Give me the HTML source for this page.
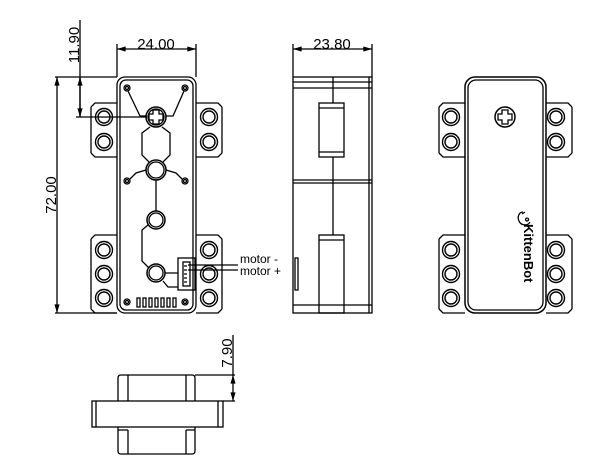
<!DOCTYPE html>
<html><head><meta charset="utf-8"><style>html,body{margin:0;padding:0;background:#fff}svg{display:block}text{font-family:"Liberation Sans",Arial,sans-serif;fill:#000}</style></head><body>
<svg width="606" height="470" viewBox="0 0 606 470" xmlns="http://www.w3.org/2000/svg" fill="none" stroke="#000" stroke-width="1.3">
<defs>
<marker id="a" viewBox="0 0 10 6" refX="10" refY="3" markerWidth="7" markerHeight="4" orient="auto-start-reverse" markerUnits="strokeWidth"><path d="M0,0L10,3L0,6z" fill="#000" stroke="none"/></marker>
<g id="hole"><circle r="8.5"/><circle r="6"/></g>
</defs>

<!-- FRONT VIEW -->
<path d="M91,107 L95,103 L117,103 M117,157 L95,157 L91,153 M91,107 L91,153"/>
<path d="M91,239 L95,235 L117,235 M117,313 L95,313 L91,309 M91,239 L91,309"/>
<path d="M222,107 L218,103 L196,103 M196,157 L218,157 L222,153 M222,107 L222,153"/>
<path d="M222,239 L218,235 L196,235 M196,313 L218,313 L222,309 M222,239 L222,309"/>
<rect x="117" y="77" width="79" height="236" rx="8"/>
<rect x="120" y="80" width="73" height="230" rx="6"/>
<g stroke-width="1.4">
<use href="#hole" x="104" y="117"/><use href="#hole" x="104" y="142"/>
<use href="#hole" x="104" y="250"/><use href="#hole" x="104" y="274"/><use href="#hole" x="104" y="298"/>
<use href="#hole" x="209" y="117"/><use href="#hole" x="209" y="142"/>
<use href="#hole" x="209" y="250"/><use href="#hole" x="209" y="274"/><use href="#hole" x="209" y="298"/>
</g>
<g><circle cx="127" cy="88" r="3"/><circle cx="127" cy="88" r="1.5"/><circle cx="185" cy="88" r="3"/><circle cx="185" cy="88" r="1.5"/>
<circle cx="127" cy="181" r="3"/><circle cx="127" cy="181" r="1.5"/><circle cx="185" cy="181" r="3"/><circle cx="185" cy="181" r="1.5"/>
<circle cx="127" cy="302" r="3"/><circle cx="127" cy="302" r="1.5"/><circle cx="185" cy="302" r="3"/><circle cx="185" cy="302" r="1.5"/></g>
<path d="M128,91 L140,116 L146,116 M184,91 L173,116 L166,116"/>
<path d="M150,127 L142,133 L142,155 L149,162 M162,127 L170,133 L170,155 L163,162"/>
<path d="M146,170 L136,173 L130,179 M166,170 L176,173 L182,179"/>
<path d="M156,180 L156,211"/>
<path d="M148,225 L142,230 L142,261 L149,268 M165,273 L178,273 M163,281 L168,287 L178,287"/>
<circle cx="156" cy="117" r="10" stroke-width="1.5"/><circle cx="156" cy="117" r="8"/>
<path d="M153,110 h6 v4 h4 v6 h-4 v4 h-6 v-4 h-4 v-6 h4z"/>
<circle cx="156" cy="170" r="10" stroke-width="1.5"/><circle cx="156" cy="170" r="8"/>
<circle cx="156" cy="220" r="9" stroke-width="1.5"/><circle cx="156" cy="220" r="7"/>
<circle cx="156" cy="273" r="9" stroke-width="1.5"/><circle cx="156" cy="273" r="7"/>
<rect x="178" y="258" width="17" height="32"/><rect x="183" y="262" width="7" height="24"/>
<path d="M184,266h3M184,270h3M184,274h3M184,278h3M184,282h3"/>
<g><rect x="137" y="298" width="3" height="9"/><rect x="143" y="298" width="3" height="9"/><rect x="149" y="298" width="3" height="9"/><rect x="155" y="298" width="3" height="9"/><rect x="161" y="298" width="3" height="9"/><rect x="167" y="298" width="3" height="9"/><rect x="173" y="298" width="3" height="9"/></g>
<path d="M188,265 L238,265 M188,270 L238,270"/>
<text x="240" y="263" font-size="12" stroke="none">motor -</text>
<text x="240" y="275" font-size="12" stroke="none">motor +</text>
<path d="M117,77 V44 M196,77 V44"/>
<path d="M117,49 H196" marker-start="url(#a)" marker-end="url(#a)"/>
<text x="156" y="49" font-size="15" text-anchor="middle" stroke="none">24.00</text>
<path d="M80,20 V117"/><path d="M80,77 V117" marker-start="url(#a)" marker-end="url(#a)"/>
<path d="M76,117 H147 M55,77 H117 M55,313 H117"/>
<path d="M57,77 V313" marker-start="url(#a)" marker-end="url(#a)"/>
<text transform="translate(79,45) rotate(-90)" font-size="15" text-anchor="middle" stroke="none">11.90</text>
<text transform="translate(56,195) rotate(-90)" font-size="15" text-anchor="middle" stroke="none">72.00</text>

<!-- SIDE VIEW -->
<rect x="293" y="77" width="79" height="236"/>
<path d="M293,82 H372 M293,88 H372 M293,180 H372 M293,183 H372 M293,305 H372 M369,77 V313"/>
<path d="M333,77 V103 M333,157 V235"/>
<rect x="319" y="103" width="25" height="54"/><path d="M319,108 H344 M319,152 H344"/>
<rect x="319" y="235" width="25" height="78"/><path d="M319,240 H344"/>
<rect x="295" y="258" width="3" height="32"/>
<path d="M293,77 V44 M372,77 V44"/>
<path d="M293,49 H372" marker-start="url(#a)" marker-end="url(#a)"/>
<text x="332" y="49" font-size="15" text-anchor="middle" stroke="none">23.80</text>

<!-- BACK VIEW -->
<path d="M439,107 L443,103 L465,103 M465,157 L443,157 L439,153 M439,107 L439,153"/>
<path d="M439,239 L443,235 L465,235 M465,313 L443,313 L439,309 M439,239 L439,309"/>
<path d="M572,107 L568,103 L546,103 M546,157 L568,157 L572,153 M572,107 L572,153"/>
<path d="M572,239 L568,235 L546,235 M546,313 L568,313 L572,309 M572,239 L572,309"/>
<rect x="465" y="77" width="81" height="236" rx="10" stroke-width="1.5"/>
<rect x="468" y="80" width="75" height="230" rx="8"/>
<g stroke-width="1.4">
<use href="#hole" x="451" y="117"/><use href="#hole" x="451" y="142"/>
<use href="#hole" x="451" y="250"/><use href="#hole" x="451" y="274"/><use href="#hole" x="451" y="298"/>
<use href="#hole" x="556" y="117"/><use href="#hole" x="556" y="142"/>
<use href="#hole" x="556" y="250"/><use href="#hole" x="556" y="274"/><use href="#hole" x="556" y="298"/>
</g>
<circle cx="505" cy="117" r="10" stroke-width="1.5"/>
<path d="M502,110 h6 v4 h4 v6 h-4 v4 h-6 v-4 h-4 v-6 h4z" stroke-width="1.3"/>
<path d="M523,212 c-4,0 -6,5 -4,9 c2,5 9,5 11,1 M522,214 l3,-2 M527,218 a1.5,1.5 0 1 0 0.1,0"/>
<text transform="translate(524,224) rotate(90)" font-size="13" font-weight="bold" stroke="none">KittenBot</text>

<!-- BOTTOM VIEW -->
<path d="M118,401 V378 Q118,375 121,375 H192 Q195,375 195,378 V401"/>
<path d="M128,375 V401 M186,375 V401"/>
<rect x="92" y="401" width="131" height="26"/>
<path d="M96,401 V427 M218,401 V427"/>
<path d="M118,427 V451 Q118,454 121,454 H192 Q195,454 195,451 V427"/>
<path d="M128,430 V454 M186,430 V454 M118,430 H128 M186,430 H195"/>
<path d="M195,375 H235 M223,401 H235 M233,335 V375"/>
<path d="M233,375 V401" marker-start="url(#a)" marker-end="url(#a)"/>
<text transform="translate(232,353) rotate(-90)" font-size="15" text-anchor="middle" stroke="none">7.90</text>
</svg>
</body></html>
